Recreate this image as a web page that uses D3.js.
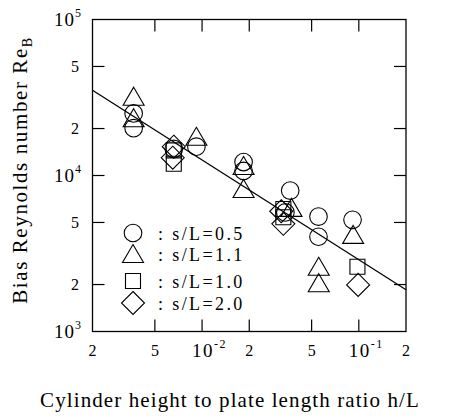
<!DOCTYPE html>
<html>
<head>
<meta charset="utf-8">
<script src="https://cdn.jsdelivr.net/npm/d3@7"></script>
<style>
  body { margin: 0; background: #fff; }
  text { font-family: "Liberation Serif", "Times New Roman", serif; fill: #000; }
</style>
</head>
<body>
<div id="chart"></div>
<script>
// data (h/L, Re_B)
var circles   = [[0.00366, 25000], [0.00366, 20100], [0.0066, 14800], [0.0092, 15300],
                 [0.0184, 12200], [0.0184, 10700], [0.0365, 8000], [0.034, 5800],
                 [0.0553, 5450], [0.0553, 4050], [0.0912, 5200]];
var triangles = [[0.00366, 32000], [0.00366, 23300], [0.0092, 17700], [0.0184, 11500],
                 [0.0184, 8200], [0.0372, 6200], [0.0555, 2600], [0.0555, 2040],
                 [0.092, 4160]];
var squares   = [[0.0066, 14500], [0.0066, 11900], [0.033, 6100], [0.033, 5400], [0.098, 2600]];
var diamonds  = [[0.0066, 15300], [0.0065, 13000], [0.032, 5900], [0.033, 4900], [0.099, 1990]];
var fitLine   = [[0.002, 35200], [0.2, 1850]];

var legendLabels = ["s/L=0.5", "s/L=1.1", "s/L=1.0", "s/L=2.0"];
var xTicks = [0.005, 0.01, 0.02, 0.05, 0.1];
var yTicks = [2000, 5000, 10000, 20000, 50000];
var xLabels = [[0.002, "2"], [0.005, "5"], [0.01, "10", "-2"], [0.02, "2"], [0.05, "5"], [0.1, "10", "-1"], [0.2, "2"]];
var yLabels = [[1000, "10", "3"], [2000, "2"], [5000, "5"], [10000, "10", "4"], [20000, "2"], [50000, "5"], [100000, "10", "5"]];

var W = 455, H = 418;
var pL = 92.5, pR = 406, pT = 19.5, pB = 331.5;

var x = d3.scaleLog().domain([0.002, 0.2]).range([pL, pR]);
var y = d3.scaleLog().domain([1000, 100000]).range([pB, pT]);

var svg = d3.select("#chart").append("svg")
    .attr("width", W)
    .attr("height", H);

// frame
svg.append("rect")
    .attr("x", pL).attr("y", pT)
    .attr("width", pR - pL).attr("height", pB - pT)
    .attr("fill", "none").attr("stroke", "#000").attr("stroke-width", 1.3);

var tl = 12; // inward ticks on all sides
xTicks.forEach(function(v) {
    svg.append("line").attr("x1", x(v)).attr("x2", x(v)).attr("y1", pB).attr("y2", pB - tl)
        .attr("stroke", "#000").attr("stroke-width", 1.2);
    svg.append("line").attr("x1", x(v)).attr("x2", x(v)).attr("y1", pT).attr("y2", pT + tl)
        .attr("stroke", "#000").attr("stroke-width", 1.2);
});
yTicks.forEach(function(v) {
    svg.append("line").attr("x1", pL).attr("x2", pL + tl).attr("y1", y(v)).attr("y2", y(v))
        .attr("stroke", "#000").attr("stroke-width", 1.2);
    svg.append("line").attr("x1", pR).attr("x2", pR - tl).attr("y1", y(v)).attr("y2", y(v))
        .attr("stroke", "#000").attr("stroke-width", 1.2);
});

// tick labels
xLabels.forEach(function(d) {
    if (d.length === 2) {
        svg.append("text").attr("x", x(d[0])).attr("y", 356)
            .attr("text-anchor", "middle").style("font-size", "16px").text(d[1]);
    } else {
        var t = svg.append("text").attr("x", x(d[0]) - 10).attr("y", 357)
            .style("font-size", "19px").style("letter-spacing", "1.5px");
        t.append("tspan").text(d[1]);
        t.append("tspan").attr("dy", -9).style("font-size", "12px").text(d[2]);
    }
});
yLabels.forEach(function(d) {
    if (d.length === 2) {
        svg.append("text").attr("x", 79).attr("y", y(d[0]) + 5.5)
            .attr("text-anchor", "end").style("font-size", "16px").text(d[1]);
    } else {
        var t = svg.append("text").attr("x", 81).attr("y", y(d[0]) + 6)
            .attr("text-anchor", "end").style("font-size", "19px");
        t.append("tspan").style("letter-spacing", "1px").text(d[1]);
        t.append("tspan").attr("dy", -9).style("font-size", "12px").text(d[2]);
    }
});

// axis titles
svg.append("text")
    .attr("x", 230).attr("y", 407)
    .attr("text-anchor", "middle")
    .style("font-size", "21px").style("letter-spacing", "1.1px")
    .text("Cylinder height to plate length ratio  h/L");

var yt = svg.append("text")
    .attr("transform", "translate(27,170) rotate(-90)")
    .attr("text-anchor", "middle")
    .style("font-size", "21px").style("letter-spacing", "1.6px");
yt.append("tspan").text("Bias Reynolds number  Re");
yt.append("tspan").attr("dy", 5).style("font-size", "14px").text("B");

// fit line
svg.append("path")
    .datum(fitLine)
    .attr("d", d3.line().x(function(d) { return x(d[0]); }).y(function(d) { return y(d[1]); }))
    .attr("fill", "none").attr("stroke", "#000").attr("stroke-width", 1.3);

// symbol shapes
function shapePath(kind, cx, cy) {
    if (kind === "circle") {
        var r = 8.8;
        return "M" + (cx - r) + "," + cy + "a" + r + "," + r + " 0 1,0 " + 2 * r + ",0a" + r + "," + r + " 0 1,0 " + (-2 * r) + ",0Z";
    }
    if (kind === "triangle") {
        return "M" + cx + "," + (cy - 9.5) + "L" + (cx + 10.5) + "," + (cy + 8.5) + "L" + (cx - 10.5) + "," + (cy + 8.5) + "Z";
    }
    if (kind === "square") {
        return "M" + (cx - 7.5) + "," + (cy - 7.5) + "h15v15h-15Z";
    }
    return "M" + cx + "," + (cy - 11.5) + "L" + (cx + 11.5) + "," + cy + "L" + cx + "," + (cy + 11.5) + "L" + (cx - 11.5) + "," + cy + "Z";
}

var series = [["circle", circles], ["triangle", triangles], ["square", squares], ["diamond", diamonds]];
series.forEach(function(s) {
    svg.append("g").selectAll("path")
        .data(s[1])
        .enter().append("path")
        .attr("d", function(d) { return shapePath(s[0], x(d[0]), y(d[1])); })
        .attr("fill", "none").attr("stroke", "#000").attr("stroke-width", 1.1);
});

// legend
var legY = [233, 254, 281, 303];
series.forEach(function(s, i) {
    svg.append("path").attr("d", shapePath(s[0], 133, legY[i]))
        .attr("fill", "none").attr("stroke", "#000").attr("stroke-width", 1.1);
    svg.append("text").attr("x", 158).attr("y", legY[i] + 6.5)
        .style("font-size", "18px").style("letter-spacing", "2.4px")
        .text(":  " + legendLabels[i]);
});
</script>
</body>
</html>
